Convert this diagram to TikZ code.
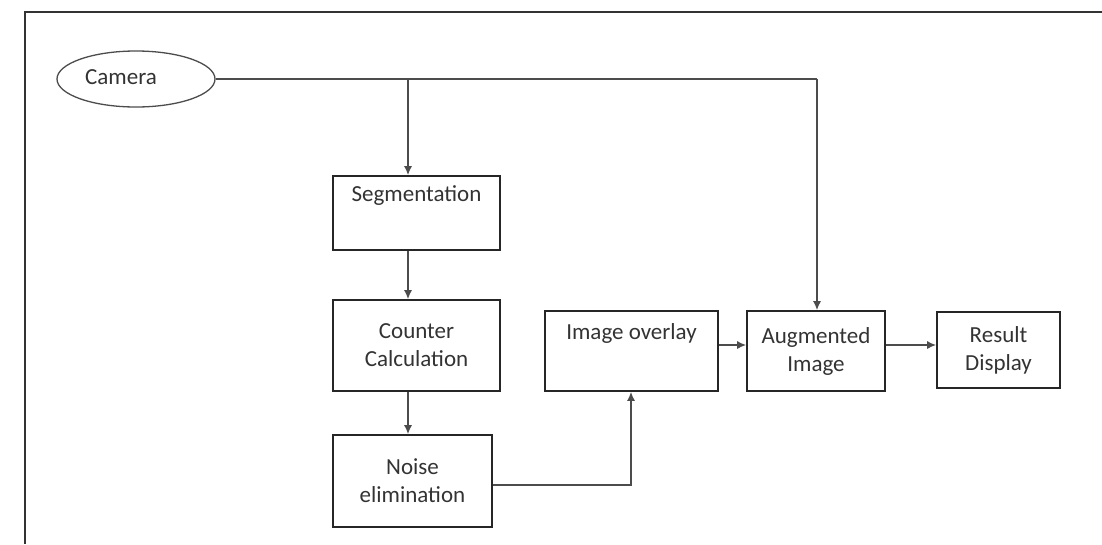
\documentclass[tikz,border=0pt]{standalone}
\usepackage{fontspec}
\setmainfont{Carlito}
\usetikzlibrary{arrows.meta,shapes.geometric}
\begin{document}
\begin{tikzpicture}[x=1pt,y=-1pt,
  every node/.style={font=\fontsize{23}{28}\selectfont, text=black!80},
  box/.style={draw=black!85, line width=1.6pt, inner sep=0pt, align=center},
  conn/.style={draw=black!70, line width=1.5pt},
  arr/.style={conn, -{Latex[length=9pt,width=8pt]}}]
\useasboundingbox (0,0) rectangle (1102,544);
% frame
\draw[black!80, line width=2pt] (25,544) -- (25,12) -- (1102,12);
% nodes
\node[ellipse, draw=black!70, line width=1.3pt, minimum width=158pt, minimum height=56pt, inner sep=0pt] (cam) at (136,79) {};
\node at (121,77) {Camera};
\node[box, minimum width=167pt, minimum height=74pt] (seg) at (416.5,213) {Segmentation\\[2pt]\strut};
\node[box, minimum width=167pt, minimum height=91pt] (cnt) at (416.5,345.5) {Counter\\Calculation};
\node[box, minimum width=159pt, minimum height=92pt] (noi) at (412.5,481) {Noise\\elimination};
\node[box, minimum width=173pt, minimum height=80pt] (ovl) at (631.5,351) {Image overlay\\[2pt]\strut};
\node[box, minimum width=138pt, minimum height=80pt] (aug) at (816,351) {Augmented\\Image};
\node[box, minimum width=123pt, minimum height=76pt] (res) at (998.5,350) {Result\\Display};
% connectors
\coordinate (j1) at (408,79);
\coordinate (j2) at (817,79);
\draw[conn] (cam.east) -- (j2);
\draw[arr] (j1) -- (seg.north -| j1);
\draw[arr] (j2) -- (aug.north -| j2);
\draw[arr] (seg.south -| j1) -- (cnt.north -| j1);
\draw[arr] (cnt.south -| j1) -- (noi.north -| j1);
\coordinate (j3) at (631,485);
\draw[arr] (noi.east |- j3) -- (j3) -- (ovl.south -| j3);
\draw[arr] (ovl.east |- 0,345) -- (aug.west |- 0,345);
\draw[arr] (aug.east |- 0,345) -- (res.west |- 0,345);
\end{tikzpicture}
\end{document}
